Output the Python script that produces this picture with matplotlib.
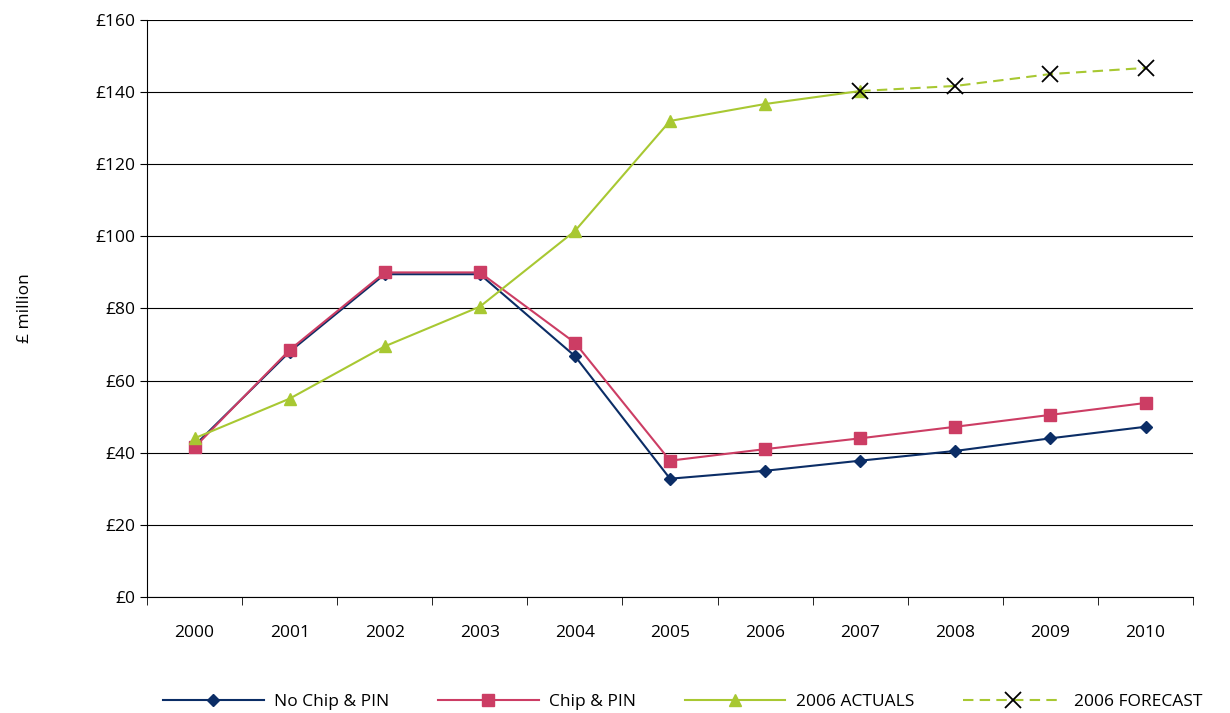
import matplotlib
matplotlib.use("Agg")
import matplotlib.pyplot as plt
from matplotlib.ticker import FuncFormatter, FixedLocator

years = ["2000","2001","2002","2003","2004","2005","2006","2007","2008","2009","2010"]
no_chip = [42, 68, 89.5, 89.5, 66.8, 32.8, 35, 37.8, 40.5, 44, 47.2]
chip = [41.5, 68.5, 90, 90, 70.5, 37.8, 41, 44, 47.2, 50.5, 53.8]
actuals = [44, 55, 69.5, 80.5, 101.5, 132, 136.7, 140.3]
forecast = [140.3, 141.7, 145, 146.7]

plt.rcParams['font.family'] = ['Open Sans', 'DejaVu Sans']
fig = plt.figure(figsize=(12.3, 7.13), dpi=100)
ax = fig.add_axes([0.1195, 0.1627, 0.8505, 0.8093])
x = list(range(len(years)))
ax.plot(x, no_chip, color='#0B2D66', marker='D', ms=6, lw=1.5, label='No Chip & PIN')
ax.plot(x, chip, color='#CC3D64', marker='s', ms=8, lw=1.5, label='Chip & PIN')
ax.plot(x[:len(actuals)], actuals, color='#A8C832', marker='^', ms=9, lw=1.5, label='2006 ACTUALS')
ax.plot(x[7:], forecast, color='#A8C832', ls=(0, (5, 3)), lw=1.5, marker='x', ms=12,
        mec='black', mew=1.3, label='2006 FORECAST')
ax.set_xlim(-0.5, 10.5)
ax.set_ylim(0, 160)
ax.set_yticks(range(0, 161, 20))
ax.yaxis.set_major_formatter(FuncFormatter(lambda v, p: f"£{int(v)}"))
ax.set_xticks(x)
ax.set_xticklabels(years)
ax.xaxis.set_minor_locator(FixedLocator([i - 0.5 for i in range(12)]))
ax.tick_params(axis='x', which='major', length=0, pad=20, labelsize=12.5)
ax.tick_params(axis='x', which='minor', length=6, color='black')
ax.tick_params(axis='y', length=5, labelsize=12.5)
ax.grid(axis='y', color='black', lw=0.8)
ax.set_axisbelow(True)
for s in ['top', 'right']:
    ax.spines[s].set_visible(False)
ax.set_ylabel('£ million', fontsize=12.5, labelpad=45)
fig.legend(loc='lower center', ncol=4, frameon=False, fontsize=12.5,
           bbox_to_anchor=(0.555, -0.018), handlelength=5.8, handletextpad=0.6,
           columnspacing=2.8)
fig.savefig('out.png', dpi=100)
